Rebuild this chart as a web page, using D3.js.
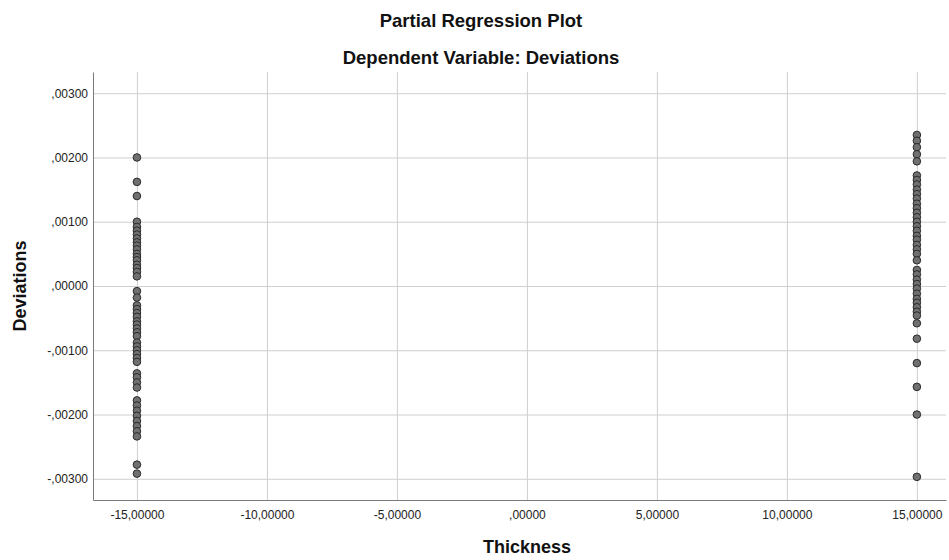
<!DOCTYPE html>
<html>
<head>
<meta charset="utf-8">
<script src="https://cdn.jsdelivr.net/npm/d3@7"></script>
<style>
  html, body { margin: 0; padding: 0; background: #fff; }
  svg { display: block; font-family: "Liberation Sans", Arial, sans-serif; }
</style>
</head>
<body>
<svg id="chart" width="949" height="560"></svg>
<script>
// Partial regression plot: Deviations against Thickness (two groups at ±15)
const groupX = [-15, 15];

// Residual deviations for the Thickness = -15 group
const deviationsLow = [
  0.00200, 0.00162, 0.00140, 0.00100, 0.00092, 0.00086, 0.00080, 0.00074,
  0.00068, 0.00063, 0.00057, 0.00050, 0.00045, 0.00040, 0.00033, 0.00028,
  0.00022, 0.00015, -0.00008, -0.00018, -0.00030, -0.00036, -0.00042, -0.00048,
  -0.00055, -0.00060, -0.00066, -0.00072, -0.00078, -0.00088, -0.00094, -0.00100,
  -0.00106, -0.00112, -0.00118, -0.00136, -0.00142, -0.00150, -0.00158, -0.00178,
  -0.00186, -0.00194, -0.00202, -0.00210, -0.00218, -0.00226, -0.00234, -0.00278,
  -0.00292
];

// Residual deviations for the Thickness = +15 group
const deviationsHigh = [
  0.00235, 0.00226, 0.00216, 0.00205, 0.00194, 0.00172, 0.00165, 0.00158,
  0.00150, 0.00143, 0.00136, 0.00128, 0.00121, 0.00114, 0.00107, 0.00100,
  0.00093, 0.00086, 0.00078, 0.00072, 0.00064, 0.00057, 0.00050, 0.00040,
  0.00025, 0.00018, 0.00010, 0.00003, -0.00004, -0.00012, -0.00020, -0.00026,
  -0.00033, -0.00040, -0.00046, -0.00058, -0.00082, -0.00120, -0.00157, -0.00200,
  -0.00297
];

const xTickValues = [-15, -10, -5, 0, 5, 10, 15];
const xTickLabels = ["-15,00000", "-10,00000", "-5,00000", ",00000", "5,00000", "10,00000", "15,00000"];
const yTickValues = [0.003, 0.002, 0.001, 0, -0.001, -0.002, -0.003];
const yTickLabels = [",00300", ",00200", ",00100", ",00000", "-,00100", "-,00200", "-,00300"];

const titleText = "Partial Regression Plot";
const subtitleText = "Dependent Variable: Deviations";
const xTitle = "Thickness";
const yTitle = "Deviations";

// Layout
const plot = { left: 93, right: 946, top: 72, bottom: 500 };

const svg = d3.select("#chart");

const x = d3.scaleLinear().domain([-16.69, 16.12]).range([plot.left, plot.right]);
const y = d3.scaleLinear().domain([-0.00333, 0.00333]).range([plot.bottom, plot.top]);

// Grid lines
const grid = svg.append("g").attr("class", "grid");
grid.append("g")
  .attr("transform", `translate(0,${plot.bottom})`)
  .call(d3.axisBottom(x).tickValues(xTickValues).tickSize(-(plot.bottom - plot.top)).tickFormat(""))
  .call(g => g.select(".domain").remove())
  .call(g => g.selectAll("line").attr("stroke", "#cfcfcf").attr("stroke-width", 1));
grid.append("g")
  .attr("transform", `translate(${plot.left},0)`)
  .call(d3.axisLeft(y).tickValues(yTickValues).tickSize(-(plot.right - plot.left)).tickFormat(""))
  .call(g => g.select(".domain").remove())
  .call(g => g.selectAll("line").attr("stroke", "#cfcfcf").attr("stroke-width", 1));

// Axes
const xAxis = svg.append("g")
  .attr("transform", `translate(0,${plot.bottom})`)
  .call(d3.axisBottom(x).tickValues(xTickValues).tickSize(0).tickPadding(10)
    .tickFormat((d, i) => xTickLabels[i]));
xAxis.select(".domain").attr("stroke", "#7a7a7a");
xAxis.selectAll("text").attr("font-size", 12).attr("fill", "#222")
  .attr("font-family", "Liberation Sans, Arial, sans-serif");

const yAxis = svg.append("g")
  .attr("transform", `translate(${plot.left},0)`)
  .call(d3.axisLeft(y).tickValues(yTickValues).tickSize(0).tickPadding(5)
    .tickFormat((d, i) => yTickLabels[i]));
yAxis.select(".domain").attr("stroke", "#7a7a7a");
yAxis.selectAll("text").attr("font-size", 12).attr("fill", "#222")
  .attr("font-family", "Liberation Sans, Arial, sans-serif");

// Points
const points = [
  ...deviationsLow.map(v => ({ x: groupX[0], y: v })),
  ...deviationsHigh.map(v => ({ x: groupX[1], y: v }))
];
svg.append("g").selectAll("circle")
  .data(points)
  .join("circle")
  .attr("cx", d => x(d.x))
  .attr("cy", d => y(d.y))
  .attr("r", 3.8)
  .attr("fill", "#707070")
  .attr("stroke", "#2a2a2a")
  .attr("stroke-width", 1);

// Titles
svg.append("text")
  .attr("x", 481).attr("y", 27)
  .attr("text-anchor", "middle")
  .attr("font-size", 18.5).attr("font-weight", "bold").attr("fill", "#111")
  .text(titleText);
svg.append("text")
  .attr("x", 481).attr("y", 64)
  .attr("text-anchor", "middle")
  .attr("font-size", 18.5).attr("font-weight", "bold").attr("fill", "#111")
  .text(subtitleText);
svg.append("text")
  .attr("x", 527).attr("y", 553)
  .attr("text-anchor", "middle")
  .attr("font-size", 18).attr("font-weight", "bold").attr("fill", "#111")
  .text(xTitle);
svg.append("text")
  .attr("transform", "translate(26,286) rotate(-90)")
  .attr("text-anchor", "middle")
  .attr("font-size", 18).attr("font-weight", "bold").attr("fill", "#111")
  .text(yTitle);
</script>
</body>
</html>
